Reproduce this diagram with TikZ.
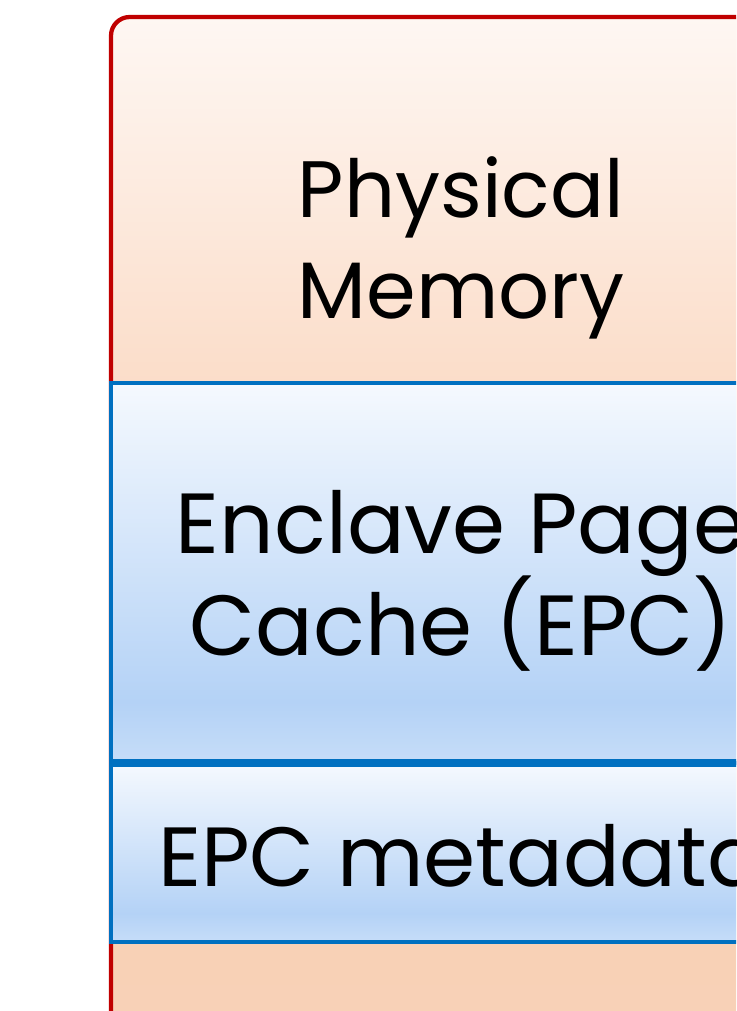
\documentclass[tikz,border=0pt]{standalone}
\usepackage{fontspec}
\setmainfont{Poppins}
\definecolor{physTop}{RGB}{254,247,243}
\definecolor{physBot}{RGB}{251,221,201}
\definecolor{epcTop}{RGB}{245,249,254}
\definecolor{epcMid}{RGB}{180,210,246}
\definecolor{epcBot}{RGB}{198,221,248}
\definecolor{restTop}{RGB}{247,201,170}
\definecolor{restBot}{RGB}{248,210,184}
\definecolor{epcBlue}{RGB}{0,112,192}
\definecolor{memRed}{RGB}{192,0,0}
\pgfdeclareverticalshading{epcshade}{100bp}{color(0bp)=(epcBot); color(25bp)=(epcBot); color(33bp)=(epcMid); color(75bp)=(epcTop); color(100bp)=(epcTop)}
\begin{document}
\begin{tikzpicture}[x=0.75pt, y=-0.75pt,
		band/.style = {draw=epcBlue, line width=3.2pt, shading=epcshade},
		label/.style = {anchor=base, inner sep=0pt, font=\fontsize{63}{76}\selectfont}]

		\useasboundingbox (0,0) rectangle (736,1011);
		\clip (0,0) rectangle (736,1011);

		% memory body
		\shade[top color=restTop, bottom color=restBot, rounded corners=14] (111,17) rectangle (811,1100);
		\shade[top color=physTop, bottom color=physBot] (111,383) [rounded corners=14] -- (111,17) -- (811,17) [sharp corners] -- (811,383) -- cycle;
		\draw[memRed, line width=3.2pt, rounded corners=14] (111,17) rectangle (811,1100);

		% EPC regions
		\path[band] (111,383) rectangle (811,763);
		\path[band] (111,763) rectangle (811,942);
		\draw[epcBlue, line width=6pt] (111,763) -- (811,763);

		\node[label, font=\fontsize{60}{72}\selectfont] (phys) at (461,217) {Physical};
		\node[label, font=\fontsize{60}{72}\selectfont] (mem) at (461,318) {Memory};
		\node[label, font=\fontsize{64}{77}\selectfont] (encl) at (461,553) {Enclave Page};
		\node[label, font=\fontsize{64}{77}\selectfont] (cache) at (461,655) {Cache (EPC)};
		\node[label] (meta) at (461,886) {EPC metadata};
	\end{tikzpicture}
\end{document}
